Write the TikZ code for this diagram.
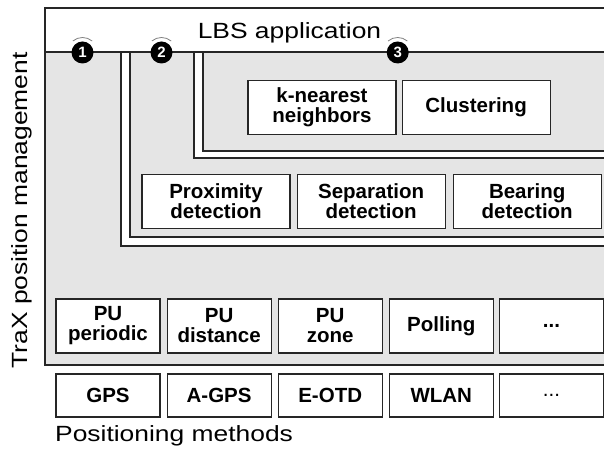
\documentclass[tikz,border=0pt]{standalone}
\usepackage{fontspec}
\usetikzlibrary{positioning}
\setmainfont{Liberation Sans}
\newfontfamily\widefont{Liberation Sans}[FakeStretch=1.2]
\definecolor{panel}{gray}{0.9}
\definecolor{rule}{gray}{0.15}
\tikzset{
  layer/.style={draw=rule,line width=1.1pt},
  block/.style={draw=rule,line width=1.1pt,fill=white,inner sep=0pt,align=center,
    minimum height=54pt,font=\fontsize{20.5}{20}\selectfont\bfseries},
  badge/.style={circle,fill=black,minimum size=22pt,inner sep=0pt,text=white,
    font=\fontsize{15}{15}\selectfont\bfseries},
  caption/.style={inner sep=0pt,font=\widefont\fontsize{22}{26}\selectfont}
}

\begin{document}
\begin{tikzpicture}[x=1pt,y=1pt]
\useasboundingbox (0,0) rectangle (604,449);
\clip (0,0) rectangle (604,449);
\draw[layer,fill=panel] (45,84) rectangle (615,397);
\draw[layer,fill=white] (121,397) rectangle (615,203);
\draw[layer,fill=panel] (130,397) rectangle (615,212);
\draw[layer,fill=white] (194,397) rectangle (615,291);
\draw[layer,fill=panel] (203,397) rectangle (615,298);
\draw[layer,fill=white] (45,397) rectangle (615,441);
\node[caption,anchor=base] (lbs) at (289.5,410) {LBS application};

\node[block,minimum width=148pt] (knn) at (322,341.75) {k-nearest\\neighbors};
\node[block,minimum width=148pt,right=5pt of knn] (clu) {Clustering};

\node[block,minimum width=148pt] (prox) at (216,247.5) {Proximity\\detection};
\node[block,minimum width=148pt,right=6pt of prox] (sep) {Separation\\detection};
\node[block,minimum width=148pt,right=7pt of sep] (bear) {Bearing\\detection};

\node[block,minimum width=104pt] (pu1) at (108,123) {PU\\periodic};
\node[block,minimum width=104pt,right=6pt of pu1] (pu2) {PU\\distance};
\node[block,minimum width=104pt,right=6pt of pu2] (pu3) {PU\\zone};
\node[block,minimum width=104pt,right=6pt of pu3] (pu4) {Polling};
\node[block,minimum width=104pt,right=5pt of pu4] (pu5) {...};

\node[block,minimum width=104pt,minimum height=43pt] (gps) at (108,53.5) {GPS};
\node[block,minimum width=104pt,minimum height=43pt,right=6pt of gps] (agps) {A-GPS};
\node[block,minimum width=104pt,minimum height=43pt,right=6pt of agps] (eotd) {E-OTD};
\node[block,minimum width=104pt,minimum height=43pt,right=6pt of eotd] (wlan) {WLAN};
\node[block,minimum width=104pt,minimum height=43pt,right=5pt of wlan] (more) {\mdseries ...};

\node[caption,rotate=90,anchor=base] (trax) at (27.5,238.5) {TraX position management};
\node[caption,anchor=base west] (meth) at (55,7) {Positioning methods};

\foreach \n/\x in {1/82.5,2/161.5,3/397.7} {
  \node[badge] (m\n) at (\x,396.5) {\n};
  \draw[gray,line width=0.8pt] ([shift={(50:15)}]m\n.center) arc (50:130:15);
}
\end{tikzpicture}
\end{document}
